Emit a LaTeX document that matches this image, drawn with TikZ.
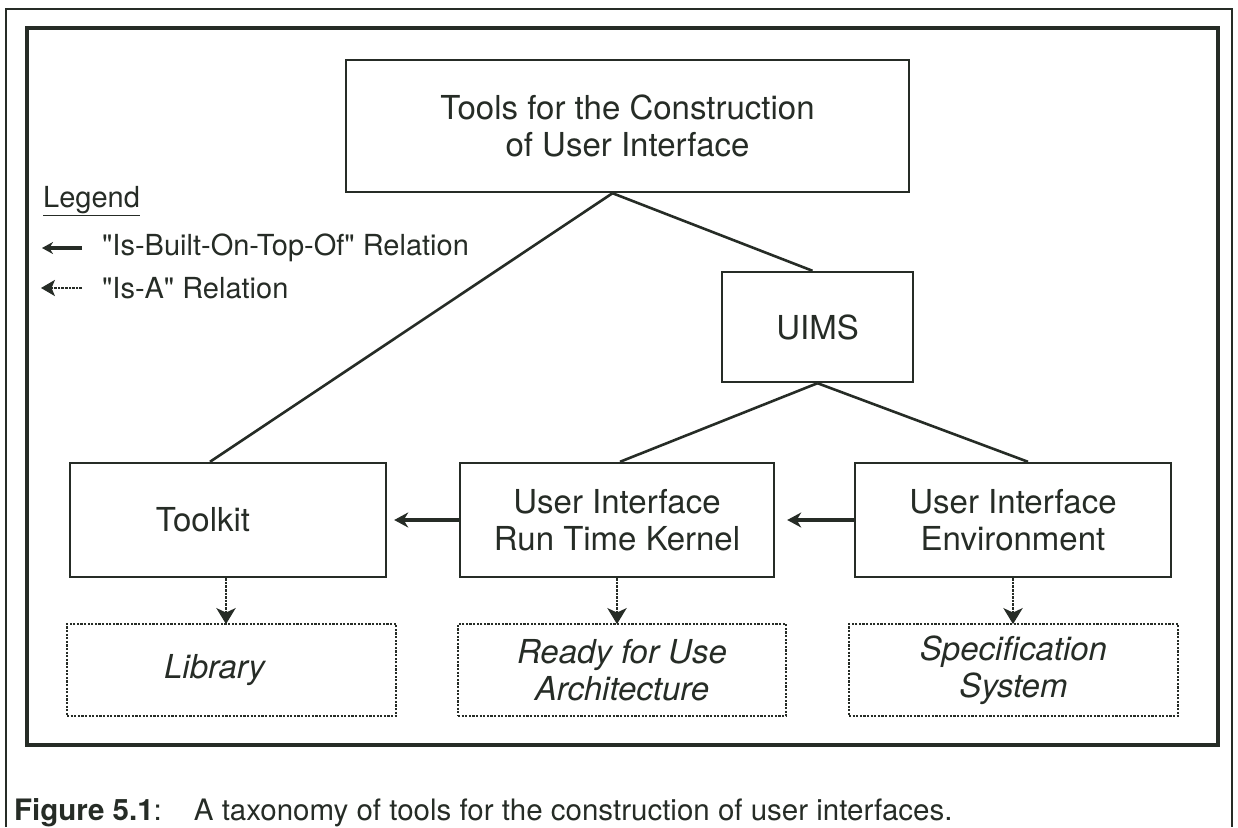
\documentclass[tikz,border=0pt]{standalone}
\usepackage{fontspec}
\setmainfont{TeX Gyre Heros}
\usetikzlibrary{arrows.meta}
\definecolor{ink}{RGB}{38,44,38}
\tikzset{>={Stealth[length=14pt,width=15pt]},
  tool/.style={draw=ink,line width=2.4pt,align=center,text=ink,inner sep=0pt,
    font=\fontsize{33}{37}\selectfont},
  kind/.style={draw=ink,line width=1.8pt,dash pattern=on 2.2pt off 1.4pt,align=center,
    text=ink,inner sep=0pt,font=\fontsize{33}{37}\selectfont\itshape},
  link/.style={draw=ink,line width=2.6pt},
  ontop/.style={draw=ink,line width=3.2pt,->},
  isa/.style={draw=ink,line width=2.6pt,dash pattern=on 2.6pt off 1pt},
  isahead/.style={fill=ink,draw=ink,line width=1pt,line join=miter},
  legendtext/.style={text=ink,inner sep=0pt,font=\fontsize{29}{33}\selectfont}}

\begin{document}
\begin{tikzpicture}[x=1pt,y=-1pt]
    \useasboundingbox (0,0) rectangle (1238,827);
    \draw[ink,line width=2.5pt] (6,827)--(6,9)--(1232,9)--(1232,827);
    \draw[ink,line width=3.5pt] (27,28) rectangle (1218,745);
    % the taxonomy
    \node[tool,minimum width=563pt,minimum height=132pt] (tools) at (627.5,126) {Tools for the Construction\\of User Interface};
    \node[tool,minimum width=191pt,minimum height=110pt] (uims) at (817.5,327) {UIMS};
    \node[tool,minimum width=316pt,minimum height=114pt] (toolkit) at (228,520) {\hspace*{-50pt}Toolkit};
    \node[tool,minimum width=314pt,minimum height=114pt] (kernel) at (617,520) {User Interface\\Run Time Kernel};
    \node[tool,minimum width=316pt,minimum height=114pt] (env) at (1013,520) {User Interface\\Environment};
    \node[kind,minimum width=329pt,minimum height=92pt] (library) at (231.5,670) {\hspace*{-34pt}Library};
    \node[kind,minimum width=328pt,minimum height=92pt] (ready) at (622,670) {Ready for Use\\Architecture};
    \node[kind,minimum width=329pt,minimum height=92pt] (spec) at (1013.5,670) {Specification\\System};
    \draw[link] ([xshift=-15pt]tools.south) -- ([xshift=-18pt]toolkit.north);
    \draw[link] ([xshift=-15pt]tools.south) -- ([xshift=-5pt]uims.north);
    \draw[link] (uims.south) -- ([xshift=3pt]kernel.north);
    \draw[link] (uims.south) -- ([xshift=15pt]env.north);
    \draw[ontop,shorten >=7pt] (kernel.west) -- (toolkit.east);
    \draw[ontop,shorten >=12pt] (env.west) -- (kernel.east);
    \foreach \from/\to/\dx in {toolkit/library/-2pt,kernel/ready/0pt,env/spec/0pt}{
      \draw[isa,shorten >=9pt] ([xshift=\dx]\from.south) -- ([xshift=\dx]\from.south |- \to.north);
      \filldraw[isahead] ([xshift=\dx]\from.south |- \to.north) -- ++(-8.5,-14) -- ++(8.5,4) -- ++(8.5,-4) -- cycle;
    }
    % legend
    \node[legendtext,anchor=base west] (legend) at (43,207) {\underline{Legend}};
    \coordinate (ontoptail) at (82,248);
    \coordinate (ontophead) at (42,248);
    \coordinate (isatail) at (82,288);
    \coordinate (isahead) at (42,288);
    \draw[ontop,>={Stealth[length=11pt,width=12pt]}] (ontoptail) -- (ontophead);
    \draw[isa,shorten >=7pt] (isatail) -- (isahead);
    \filldraw[isahead] (isahead) -- ++(12,-7) -- ++(-3,7) -- ++(3,7) -- cycle;
    \node[legendtext,anchor=west] (ontoplabel) at (102,248) {\textquotedbl Is-Built-On-Top-Of\textquotedbl{} Relation};
    \node[legendtext,anchor=west] (isalabel) at (102,288) {\textquotedbl Is-A\textquotedbl{} Relation};
    % caption
    \node[text=ink,inner sep=0pt,anchor=base west,font=\fontsize{29.5}{34}\selectfont] (caption) at (14,820)
      {\textbf{Figure 5.1}:\hspace{32pt}A taxonomy of tools for the construction of user interfaces.};
\end{tikzpicture}
\end{document}
